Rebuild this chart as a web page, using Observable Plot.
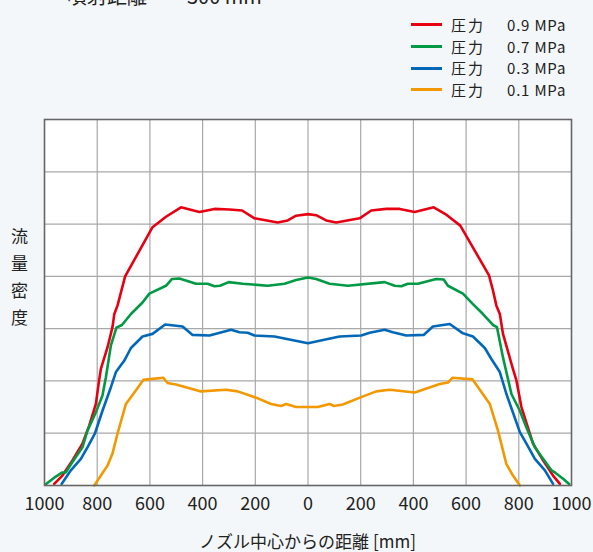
<!DOCTYPE html>
<html>
<head>
<meta charset="utf-8">
<script src="https://cdn.jsdelivr.net/npm/d3@7"></script>
<script src="https://cdn.jsdelivr.net/npm/@observablehq/plot@0.6"></script>
<style>
  html, body { margin: 0; padding: 0; background: #f4f7f9; }
  body { width: 593px; height: 552px; overflow: hidden; font-family: "Noto Sans CJK JP", "Noto Sans", sans-serif; color: #222; }
  #wrap { position: relative; width: 593px; height: 552px; }
  #title { position: absolute; left: 67px; top: -14px; font-size: 20px; line-height: 20px; white-space: pre; }
  #legend { position: absolute; left: 411px; top: 14px; font-size: 15px; line-height: 21.7px; }
  .row { display: flex; align-items: center; height: 21.7px; }
  .sw { width: 31px; height: 3px; margin-right: 9px; }
  .lab1 { width: 56px; letter-spacing: 2px; }
  .lab2 { letter-spacing: 0.8px; }
  #ylab { position: absolute; left: 11px; top: 228px; font-size: 17px; writing-mode: vertical-rl; letter-spacing: 10px; line-height: 17px; }
  #chart { position: absolute; left: 0; top: 100px; }
  #xlab { position: absolute; left: 0; width: 593px; top: 528px; text-align: center; font-size: 17px; padding-left: 22px; box-sizing: border-box;}
</style>
</head>
<body>
<div id="wrap">
  <div id="title">噴射距離　　300 mm</div>
  <div id="legend"></div>
  <div id="ylab">流量密度</div>
  <div id="chart"></div>
  <div id="xlab">ノズル中心からの距離 [mm]</div>
</div>
<script>
const seriesNames = ["0.9 MPa", "0.7 MPa", "0.3 MPa", "0.1 MPa"];
const seriesColors = ["#e60012", "#009944", "#0068b7", "#f39800"];
const xTicks = [-1000, -800, -600, -400, -200, 0, 200, 400, 600, 800, 1000];

const p09 = [[-963,0.03],[-932,0.19],[-894,0.48],[-856,0.80],[-830,1.15],[-805,1.56],[-792,2.04],[-786,2.23],[-761,2.64],[-742,3.03],[-735,3.28],[-723,3.44],[-694,4.00],[-590,4.94],[-539,5.14],[-482,5.32],[-412,5.23],[-355,5.29],[-298,5.28],[-250,5.26],[-203,5.11],[-115,5.03],[-77,5.07],[-45,5.16],[0,5.19],[31,5.17],[69,5.07],[107,5.03],[196,5.11],[240,5.26],[297,5.29],[348,5.29],[405,5.23],[477,5.32],[525,5.18],[578,4.97],[687,4.02],[702,3.73],[715,3.44],[728,3.28],[740,2.90],[776,2.26],[791,2.01],[810,1.50],[854,0.80],[892,0.48],[930,0.19],[956,0.03]];
const p07 = [[-994,0.03],[-963,0.15],[-932,0.25],[-919,0.25],[-894,0.45],[-856,0.73],[-837,1.05],[-805,1.40],[-780,1.72],[-767,2.07],[-748,2.68],[-727,3.02],[-706,3.07],[-672,3.28],[-628,3.50],[-602,3.67],[-539,3.82],[-516,3.95],[-488,3.96],[-425,3.86],[-381,3.86],[-355,3.81],[-334,3.82],[-301,3.89],[-248,3.86],[-153,3.82],[-89,3.86],[-45,3.93],[0,3.98],[31,3.95],[82,3.86],[151,3.82],[291,3.89],[329,3.82],[354,3.81],[379,3.86],[417,3.86],[487,3.95],[515,3.94],[531,3.82],[588,3.67],[626,3.47],[664,3.28],[702,3.07],[717,3.03],[740,2.45],[772,1.75],[804,1.43],[829,1.11],[861,0.73],[892,0.51],[924,0.29],[937,0.25],[968,0.13],[991,0.03]];
const p03 = [[-935,0.03],[-900,0.29],[-862,0.51],[-837,0.73],[-809,0.99],[-780,1.43],[-748,1.88],[-729,2.17],[-697,2.39],[-672,2.63],[-628,2.85],[-590,2.90],[-542,3.08],[-476,3.04],[-438,2.88],[-374,2.87],[-292,2.98],[-260,2.93],[-229,2.92],[-203,2.87],[-127,2.85],[0,2.72],[44,2.77],[120,2.85],[202,2.87],[234,2.92],[291,2.98],[322,2.93],[373,2.87],[439,2.88],[474,3.04],[538,3.09],[588,2.91],[626,2.85],[671,2.63],[696,2.42],[728,2.17],[753,1.75],[804,1.02],[829,0.80],[861,0.51],[899,0.29],[930,0.03]];
const p01 = [[-811,0.00],[-786,0.19],[-761,0.38],[-742,0.61],[-723,0.99],[-691,1.56],[-659,1.78],[-625,2.02],[-590,2.04],[-549,2.06],[-533,1.96],[-501,1.93],[-406,1.80],[-311,1.83],[-267,1.80],[-197,1.68],[-140,1.56],[-102,1.52],[-83,1.56],[-45,1.50],[0,1.50],[37,1.50],[82,1.56],[98,1.52],[132,1.55],[202,1.69],[259,1.80],[310,1.83],[405,1.78],[500,1.94],[531,1.97],[548,2.06],[624,2.03],[690,1.56],[721,1.05],[753,0.41],[778,0.19],[804,0.00]];

const seriesData = [p09, p07, p03, p01];

// legend
const legend = document.getElementById("legend");
seriesNames.forEach((n, i) => {
  const r = document.createElement("div");
  r.className = "row";
  r.innerHTML = `<div class="sw" style="background:${seriesColors[i]}"></div><span class="lab1">圧力</span><span class="lab2">${n}</span>`;
  legend.appendChild(r);
});

const rows = seriesData.flatMap((pts, i) => pts.map(([x, y]) => ({x, y, s: seriesNames[i]})));

const chart = Plot.plot({
  width: 593,
  height: 452,
  marginTop: 19,
  marginBottom: 67,
  marginLeft: 44,
  marginRight: 22,
  style: {fontFamily: "'Noto Sans CJK JP', 'Noto Sans', sans-serif", fontSize: "18px", background: "transparent", color: "#222"},
  x: {domain: [-1000, 1000]},
  y: {domain: [0, 7]},
  color: {domain: seriesNames, range: seriesColors},
  marks: [
    Plot.rect([0], {x1: -1000, x2: 1000, y1: 0, y2: 7, fill: "white"}),
    Plot.gridX({ticks: xTicks.slice(1, -1), stroke: "#a8a8a8", strokeOpacity: 1, strokeWidth: 1.2}),
    Plot.gridY({ticks: [1, 2, 3, 4, 5, 6], stroke: "#a8a8a8", strokeOpacity: 1, strokeWidth: 1.2}),
    Plot.line(rows, {x: "x", y: "y", z: "s", stroke: "s", strokeWidth: 2.6, curve: "linear"}),
    Plot.frame({stroke: "#666", strokeWidth: 1.6}),
    Plot.axisX({ticks: xTicks, tickFormat: d => String(Math.abs(d)), tickSize: 0, tickPadding: 12, label: null, fill: "#222"}),
    Plot.axisY({ticks: [], label: null})
  ]
});
document.getElementById("chart").appendChild(chart);
</script>
</body>
</html>
